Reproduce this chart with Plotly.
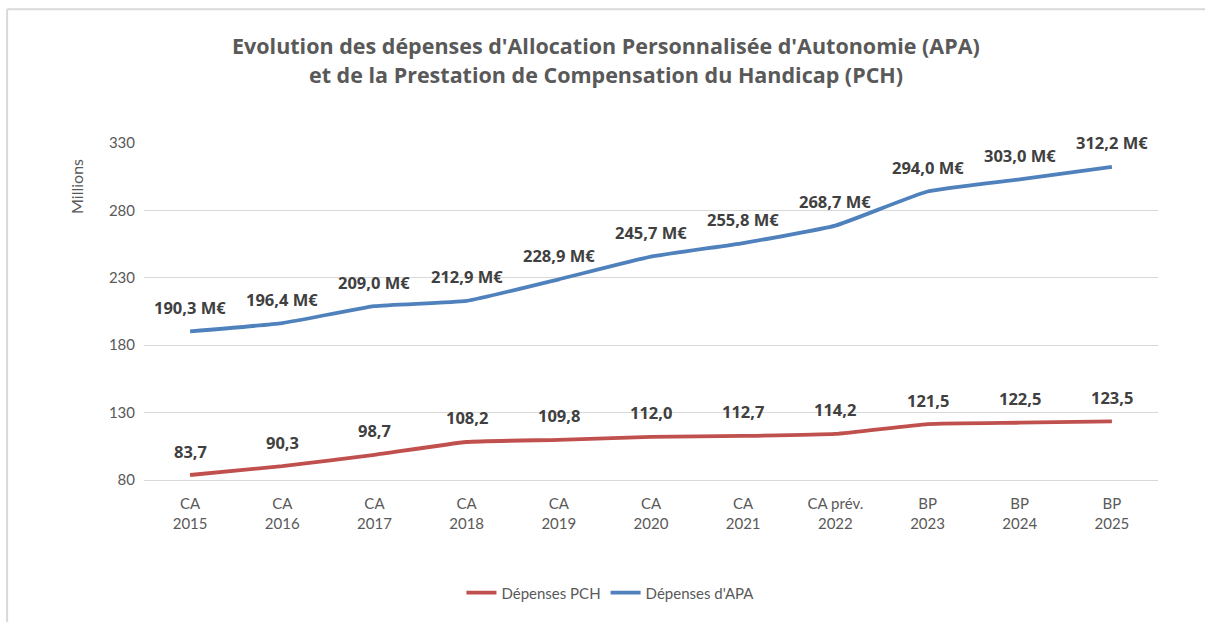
import plotly.graph_objects as go

categories = ["CA<br>2015", "CA<br>2016", "CA<br>2017", "CA<br>2018", "CA<br>2019",
              "CA<br>2020", "CA<br>2021", "CA prév.<br>2022", "BP<br>2023", "BP<br>2024", "BP<br>2025"]
pch = [83.7, 90.3, 98.7, 108.2, 109.8, 112.0, 112.7, 114.2, 121.5, 122.5, 123.5]
apa = [190.3, 196.4, 209.0, 212.9, 228.9, 245.7, 255.8, 268.7, 294.0, 303.0, 312.2]
y_ticks = [80, 130, 180, 230, 280, 330]
title_lines = ["Evolution des dépenses d'Allocation Personnalisée d'Autonomie (APA)",
               "et de la Prestation de Compensation du Handicap (PCH)"]

RED = "#C0504D"
BLUE = "#4F81BD"
GRAY = "#595959"
LABEL = "#404040"
FONT = "Lato, 'Open Sans', sans-serif"
BFONT = "'Open Sans', sans-serif"

def fmt(v, suffix=""):
    return f"{v:.1f}".replace(".", ",") + suffix

fig = go.Figure()
fig.add_trace(go.Scatter(x=categories, y=pch, mode="lines", name="Dépenses PCH",
                         line=dict(color=RED, width=3.8, shape="spline", smoothing=0.4)))
fig.add_trace(go.Scatter(x=categories, y=apa, mode="lines", name="Dépenses d'APA",
                         line=dict(color=BLUE, width=3.8, shape="spline", smoothing=0.4)))

annotations = []
for c, v in zip(categories, pch):
    annotations.append(dict(x=c, y=v, text=fmt(v), showarrow=False, yshift=24,
                            font=dict(family=BFONT, size=16.5, color=LABEL, weight="bold")))
for c, v in zip(categories, apa):
    annotations.append(dict(x=c, y=v, text=fmt(v, " M€"), showarrow=False, yshift=24,
                            font=dict(family=BFONT, size=16.5, color=LABEL, weight="bold")))
annotations.append(dict(xref="paper", yref="paper", x=-0.066, y=0.87, xanchor="center",
                        yanchor="middle", text="Millions", showarrow=False, textangle=-90,
                        font=dict(family=FONT, size=16, color=GRAY)))
for line_text, ypos in zip(title_lines, [1.2908, 1.2018]):
    annotations.append(dict(xref="paper", yref="paper", x=0.4556, y=ypos, xanchor="center",
                            yanchor="middle", text=line_text, showarrow=False,
                            font=dict(family=BFONT, size=21.5, color=GRAY, weight="bold")))

fig.update_layout(
    width=1205, height=622,
    paper_bgcolor="white", plot_bgcolor="white",
    margin=dict(l=144, r=47, t=143, b=142),
    showlegend=True,
    legend=dict(orientation="h", x=0.46, xanchor="center", y=-0.335, yanchor="middle",
                font=dict(family=FONT, size=15, color=GRAY)),
    annotations=annotations,
    shapes=[
        dict(type="line", xref="paper", yref="paper", x0=-0.135, x1=1.05, y0=1.397, y1=1.397,
             line=dict(color="#D9D9D9", width=2)),
        dict(type="line", xref="paper", yref="paper", x0=-0.135, x1=-0.135, y0=1.397, y1=-0.43,
             line=dict(color="#D9D9D9", width=2)),
    ],
)
fig.update_xaxes(range=[-0.5, len(categories) - 0.5], showgrid=False, showline=True,
                 linecolor="#D9D9D9", linewidth=1, ticks="",
                 tickfont=dict(family=FONT, size=15, color=GRAY), ticklabelstandoff=10)
fig.update_yaxes(range=[80, 330], tickvals=y_ticks, showgrid=True, gridcolor="#D9D9D9",
                 gridwidth=1, zeroline=False, showline=False, ticks="",
                 tickfont=dict(family=FONT, size=15, color=GRAY), ticklabelstandoff=8)

fig.write_html("out.html", config={"displayModeBar": False},
               post_script="document.body.style.margin='0';")
